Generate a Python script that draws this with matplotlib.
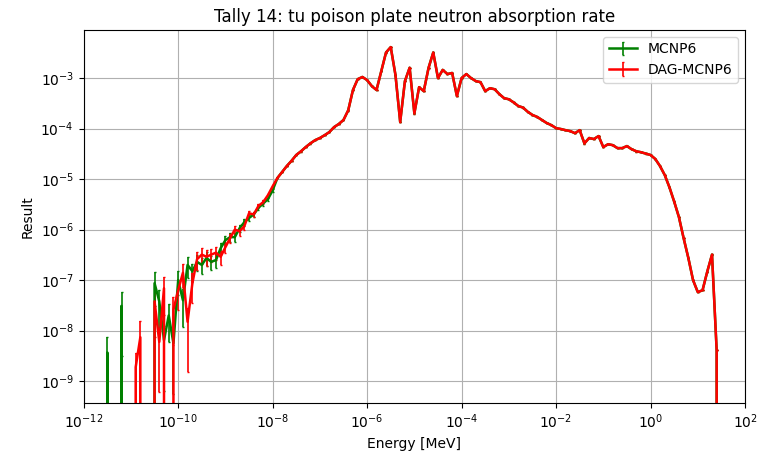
import numpy as np
import matplotlib
matplotlib.use("Agg")
import matplotlib.pyplot as plt

# energy bins below 1e-8 MeV, where the two codes differ
low_energy = [2.51e-12, 3.16e-12, 3.98e-12, 5.01e-12, 6.31e-12, 7.94e-12,
              1.00e-11, 1.26e-11, 1.58e-11, 2.00e-11, 2.51e-11, 3.16e-11, 3.98e-11, 5.01e-11, 6.31e-11, 7.94e-11,
              1.00e-10, 1.26e-10, 1.58e-10, 2.00e-10, 2.51e-10, 3.16e-10, 3.98e-10, 5.01e-10, 6.31e-10, 7.94e-10,
              1.00e-9, 1.26e-9, 1.58e-9, 2.00e-9, 2.51e-9, 3.16e-9, 3.98e-9, 5.01e-9, 6.31e-9, 7.94e-9,
              1.00e-8]

mcnp_low = [0, 3.7e-9, 0, 0, 3.1e-8, 0,
            0, 0, 0, 0, 0, 8.7e-8, 3.8e-8, 6.5e-9, 2.0e-8, 5.6e-9,
            1.0e-7, 4.0e-8, 2.0e-7, 1.5e-7, 2.3e-7, 2.0e-7, 2.75e-7, 2.3e-7, 2.5e-7, 4.3e-7,
            6.2e-7, 7.1e-7, 7.1e-7, 1.07e-6, 1.4e-6, 1.7e-6, 2.0e-6, 2.7e-6, 3.3e-6, 4.0e-6,
            6.0e-6]
mcnp_low_err = [0, 1.0, 0, 0, 0.9, 0,
                0, 0, 0, 0, 0, 0.65, 0.7, 0.9, 0.7, 0.9,
                0.5, 0.7, 0.45, 0.4, 0.35, 0.35, 0.3, 0.3, 0.3, 0.25,
                0.2, 0.2, 0.2, 0.15, 0.15, 0.12, 0.12, 0.1, 0.1, 0.08,
                0.08]

dag_low = [0, 0, 0, 0, 0, 0,
           0, 1.9e-9, 7.4e-9, 0, 0, 3.8e-8, 6.0e-9, 6.9e-8, 0, 2.6e-8,
           6.3e-8, 1.4e-7, 1.5e-8, 8.7e-8, 2.6e-7, 3.2e-7, 2.9e-7, 3.2e-7, 3.5e-7, 2.9e-7,
           4.5e-7, 6.8e-7, 1.0e-6, 9.3e-7, 1.17e-6, 2.1e-6, 2.0e-6, 2.95e-6, 3.5e-6, 4.8e-6,
           7.2e-6]
dag_low_err = [0, 0, 0, 0, 0, 0,
               0, 0.9, 1.1, 0, 0, 0.8, 0.9, 0.7, 0, 0.8,
               0.6, 0.5, 0.9, 0.6, 0.4, 0.35, 0.35, 0.3, 0.3, 0.3,
               0.25, 0.2, 0.2, 0.18, 0.15, 0.12, 0.12, 0.1, 0.1, 0.08,
               0.07]

# bins from 1e-8 MeV up, where both runs agree
tail_energy = [1.26e-8, 1.58e-8, 2.00e-8, 2.51e-8, 3.16e-8, 3.98e-8, 5.01e-8, 6.31e-8, 7.94e-8,
               1.00e-7, 1.26e-7, 1.58e-7, 2.00e-7, 2.51e-7, 3.16e-7, 3.98e-7, 5.01e-7, 6.31e-7, 7.94e-7,
               1.00e-6, 1.26e-6, 1.58e-6, 2.00e-6, 2.51e-6, 3.16e-6, 3.98e-6, 5.01e-6, 6.31e-6, 7.94e-6,
               1.00e-5, 1.26e-5, 1.58e-5, 2.00e-5, 2.51e-5, 3.16e-5, 3.98e-5, 5.01e-5, 6.31e-5, 7.94e-5,
               1.00e-4, 1.26e-4, 1.58e-4, 2.00e-4, 2.51e-4, 3.16e-4, 3.98e-4, 5.01e-4, 6.31e-4, 7.94e-4,
               1.00e-3, 1.26e-3, 1.58e-3, 2.00e-3, 2.51e-3, 3.16e-3, 3.98e-3, 5.01e-3, 6.31e-3, 7.94e-3,
               1.00e-2, 1.26e-2, 1.58e-2, 2.00e-2, 2.51e-2, 3.16e-2, 3.98e-2, 5.01e-2, 6.31e-2, 7.94e-2,
               1.00e-1, 1.26e-1, 1.58e-1, 2.00e-1, 2.51e-1, 3.16e-1, 3.98e-1, 5.01e-1, 6.31e-1, 7.94e-1,
               1.00, 1.26, 1.58, 2.00, 2.51, 3.16, 3.98, 5.01, 6.31, 7.94,
               10.0, 12.6, 15.8, 20.0, 25.1, 31.6]
tail_rate = [1.05e-5, 1.38e-5, 1.82e-5, 2.3e-5, 3.0e-5, 3.55e-5, 4.3e-5, 5.1e-5, 5.9e-5,
             6.5e-5, 7.4e-5, 8.5e-5, 1.07e-4, 1.23e-4, 1.48e-4, 2.3e-4, 5.8e-4, 9.5e-4, 1.05e-3,
             9.1e-4, 6.9e-4, 5.8e-4, 1.38e-3, 3.2e-3, 4.1e-3, 1.15e-3, 1.35e-4, 8.7e-4, 1.6e-3,
             2.0e-4, 6.6e-4, 5.5e-4, 1.6e-3, 3.2e-3, 1.0e-3, 1.45e-3, 1.2e-3, 1.26e-3, 4.4e-4,
             1.0e-3, 1.2e-3, 1.0e-3, 8.7e-4, 8.3e-4, 5.5e-4, 6.3e-4, 6.0e-4, 4.8e-4, 4.0e-4,
             3.8e-4, 3.3e-4, 2.8e-4, 2.6e-4, 2.15e-4, 1.86e-4, 1.7e-4, 1.48e-4, 1.29e-4, 1.17e-4,
             1.02e-4, 9.8e-5, 9.3e-5, 8.9e-5, 8.1e-5, 9.3e-5, 5.1e-5, 6.5e-5, 6.2e-5, 7.1e-5,
             4.3e-5, 4.9e-5, 4.7e-5, 4.1e-5, 4.1e-5, 4.5e-5, 3.9e-5, 3.55e-5, 3.4e-5, 3.2e-5,
             3.0e-5, 2.5e-5, 1.82e-5, 1.2e-5, 6.9e-6, 3.6e-6, 1.78e-6, 6.8e-7, 2.75e-7, 1.0e-7,
             5.8e-8, 6.3e-8, 1.45e-7, 3.2e-7, 4.1e-9, 0]
tail_rel_err = 0.01

energy = np.array(low_energy + tail_energy)
mcnp = np.array(mcnp_low + tail_rate)
dag = np.array(dag_low + tail_rate)
mcnp_err = mcnp * np.array(mcnp_low_err + [tail_rel_err] * len(tail_rate))
dag_err = dag * np.array(dag_low_err + [tail_rel_err] * len(tail_rate))

fig = plt.figure(figsize=(7.61, 4.59), dpi=100)
ax = fig.add_axes([0.110, 0.122, 0.869, 0.813])

ax.errorbar(energy, mcnp, yerr=mcnp_err, color='green', lw=1.8,
            elinewidth=1.2, capsize=1, label='MCNP6')
ax.errorbar(energy, dag, yerr=dag_err, color='red', lw=1.8,
            elinewidth=1.2, capsize=1, label='DAG-MCNP6')

ax.set_xscale('log')
ax.set_yscale('log')
ax.set_xlim(1e-12, 1e2)
ax.set_ylim(3.7e-10, 9e-3)
ax.set_xticks([1e-12, 1e-10, 1e-8, 1e-6, 1e-4, 1e-2, 1e0, 1e2])
ax.minorticks_off()
ax.grid(True)

ax.set_title('Tally 14: tu poison plate neutron absorption rate')
ax.set_xlabel('Energy [MeV]')
ax.set_ylabel('Result')
ax.legend(loc='upper right')

fig.savefig('out.png', dpi=100)
